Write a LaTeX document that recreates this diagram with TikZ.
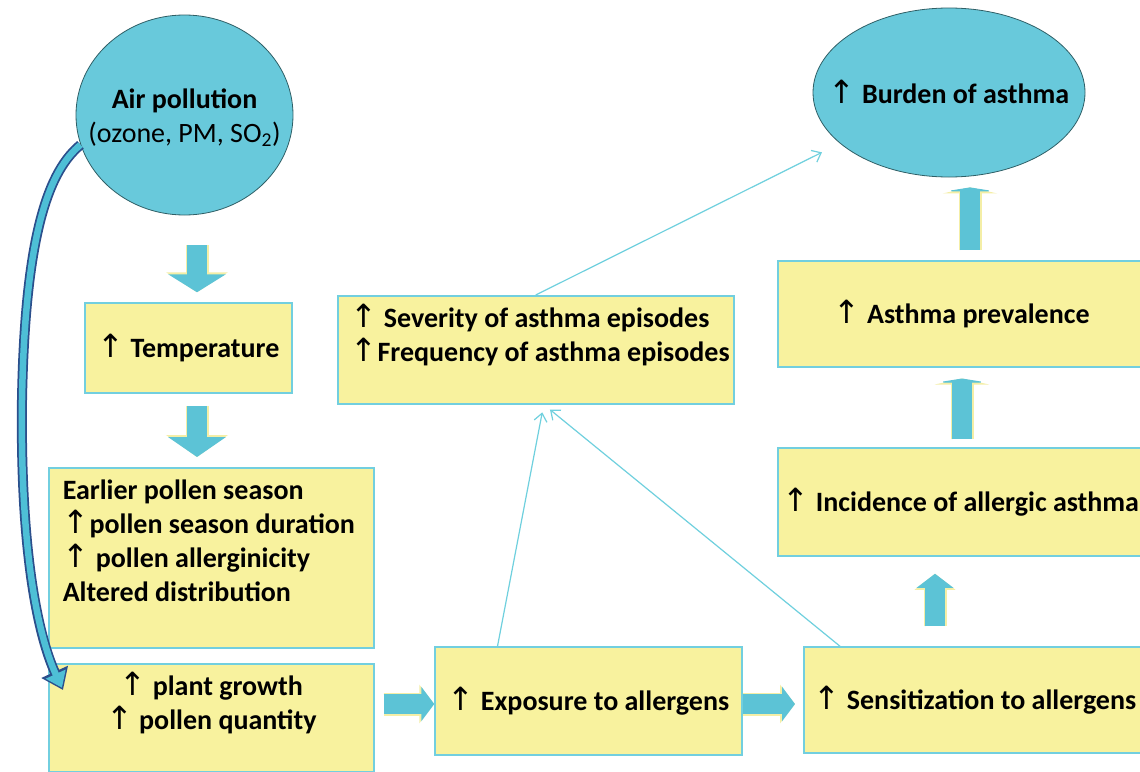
\documentclass[tikz,border=0pt]{standalone}
\usepackage{fontspec}
\setmainfont{Carlito}
\newfontfamily\arrowfont{DejaVu Sans}
\usetikzlibrary{arrows.meta,shapes.geometric,calc}
\newcommand{\upar}{{\arrowfont\mdseries\fontsize{32}{34}\selectfont ↑}}
\newcommand{\nosp}{\spaceskip=0pt\xspaceskip=0pt\relax}
\newcommand{\fixedtext}[1]{\makebox[0pt]{\raisebox{-10pt}[0pt][0pt]{\begin{tabular}{@{}c@{}}#1\end{tabular}}}}
\definecolor{boxfill}{HTML}{F8F29E}
\definecolor{boxline}{HTML}{72CFDF}
\definecolor{ovalfill}{HTML}{68C9DB}
\definecolor{ovalline}{HTML}{2F5F66}
\definecolor{barrow}{HTML}{5CC3D6}
\definecolor{glow}{HTML}{F4EEA6}
\definecolor{thinline}{HTML}{6FD0DE}
\definecolor{curvedark}{HTML}{2B4F8C}
\definecolor{curvefill}{HTML}{4EBFD6}
\tikzset{
  box/.style={draw=boxline, fill=boxfill, line width=1.5pt, inner sep=0pt},
  oval/.style={ellipse, draw=ovalline, fill=ovalfill, line width=0.8pt, inner sep=0pt},
  blockarrow/.style 2 args={draw=barrow, line width=20pt, -{Triangle[length=#1,width=#2]},
    preaction={draw=glow, line width=23pt, -{Triangle[length=#1+2pt,width=#2+4pt]}}},
  thinarrow/.style={draw=thinline, line width=1.2pt, -{Straight Barb[length=8pt,width=13pt]}}
}
\begin{document}
\begin{tikzpicture}[x=1pt,y=-1pt, font=\fontsize{28}{34}\selectfont\bfseries]
\useasboundingbox (0,0) rectangle (1140,771);
\clip (0,0) rectangle (1140,771);
\fill[white] (0,0) rectangle (1140,771);

% nodes
\node[oval, minimum width=217pt, minimum height=200pt] (pollution) at (184.5,115)
  {\fixedtext{Air pollution\\{\mdseries (ozone, PM, SO\textsubscript{2})}}};
\node[oval, minimum width=272pt, minimum height=169pt] (burden) at (949,92.5)
  {\fixedtext{\upar\ Burden of asthma}};
\node[box, minimum width=207pt, minimum height=90pt] (temp) at (188.5,348)
  {\upar\ Temperature};
\node[box, anchor=north west, minimum width=325pt, minimum height=180pt,
  text width=297pt, align=left] (pollen) at (48,467)
  {\nosp Earlier pollen season\\\upar pollen season duration\\\upar\ pollen allerginicity\\Altered distribution\\\mbox{}};
\node[box, anchor=north west, minimum width=325pt, minimum height=108pt, align=center] (plant) at (48,663)
  {\nosp\upar\ plant growth\\\upar\ pollen quantity\\\mbox{}};
\node[box, minimum width=307pt, minimum height=108pt] (exposure) at (588.5,701)
  {\upar\ Exposure to allergens};
\node[box, anchor=west, minimum width=360pt, minimum height=106pt,
  text width=340pt, align=left] (sens) at (803,700)
  {\nosp\mbox{\upar\ Sensitization to allergens}};
\node[box, anchor=west, minimum width=380pt, minimum height=108pt,
  text width=370pt, align=left] (incid) at (777,502)
  {\nosp\mbox{\upar\ Incidence of allergic asthma}};
\node[box, anchor=north west, minimum width=368pt, minimum height=106pt] (prev) at (777,260)
  {\upar\ Asthma prevalence};
\node[box, anchor=north west, minimum width=396pt, minimum height=108pt,
  text width=370pt, align=left] (sev) at (337,295)
  {\nosp\mbox{\upar\ Severity of asthma episodes}\\\mbox{\upar Frequency of asthma episodes}\\\mbox{}};

% helper columns/rows
\coordinate (colA) at (197,0);
\coordinate (colB) at (935,0);
\coordinate (colC) at (962,0);
\coordinate (colD) at (970,0);
\coordinate (rowA) at (0,704);

% block arrows
\draw[blockarrow={18pt}{57pt}, shorten <=30pt, shorten >=10pt] (pollution.south -| colA) -- (temp.north -| colA);
\draw[blockarrow={20pt}{57pt}, shorten <=12pt, shorten >=10pt] (temp.south -| colA) -- (pollen.north -| colA);
\draw[blockarrow={13pt}{34pt}, shorten <=9pt] (plant.east |- rowA) -- (exposure.west |- rowA);
\draw[blockarrow={13pt}{34pt}, shorten >=8pt] (exposure.east |- rowA) -- (sens.west |- rowA);
\draw[blockarrow={14pt}{36pt}, shorten <=20pt, shorten >=17pt] (sens.north -| colB) -- (incid.south -| colB);
\draw[blockarrow={4pt}{50pt}, shorten <=8pt, shorten >=11pt] (incid.north -| colC) -- (prev.south -| colC);
\draw[blockarrow={4pt}{50pt}, shorten <=10pt, shorten >=10pt] (prev.north -| colD) -- (burden.south -| colD);

% thin arrows
\draw[thinarrow, shorten >=20pt] (sev.north) -- (burden.205);
\draw[thinarrow, shorten >=8pt] ([xshift=-91pt]exposure.north) -- ([xshift=8pt]sev.south);
\draw[thinarrow, shorten >=8pt] ([xshift=37pt]sens.north west) -- ([xshift=8pt]sev.south);

% curved arrow
\draw[curvedark, line width=10pt, -{Triangle[length=20pt,width=28pt]}]
  (pollution.196) .. controls (50,170) and (25,230) .. (22,400)
  .. controls (20,560) and (40,640) .. ([shift={(15,27)}]plant.north west);
\draw[curvefill, line width=6.5pt, shorten >=2.5pt, -{Triangle[length=15pt,width=21pt]}]
  (pollution.196) .. controls (50,170) and (25,230) .. (22,400)
  .. controls (20,560) and (40,640) .. ([shift={(15,27)}]plant.north west);
\end{tikzpicture}
\end{document}
